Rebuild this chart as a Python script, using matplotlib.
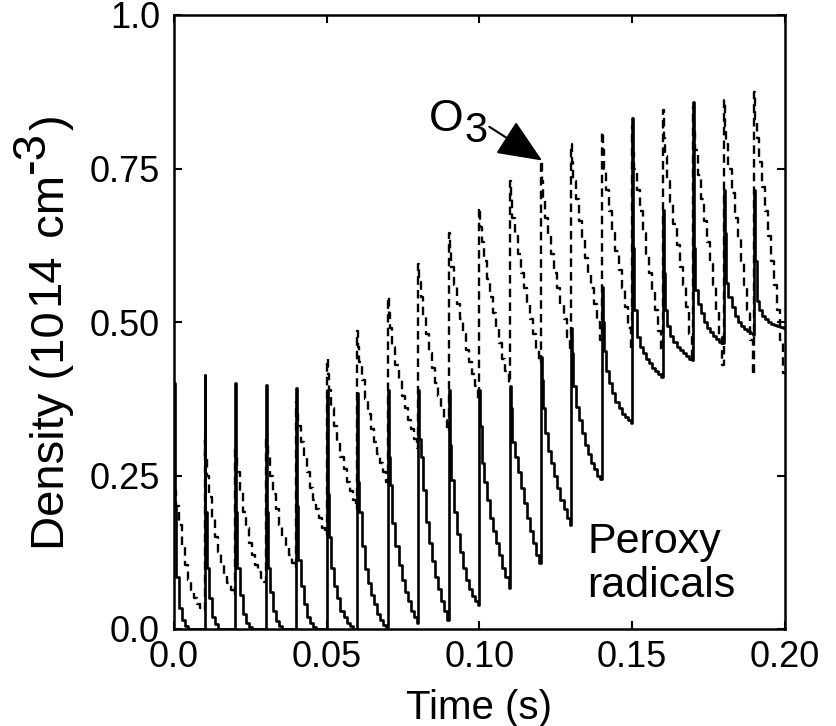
import matplotlib
matplotlib.use("Agg")
import matplotlib.pyplot as plt
from matplotlib.transforms import IdentityTransform

plt.rcParams['font.family'] = ['Liberation Sans', 'DejaVu Sans']

# ---------------- data ----------------
pulse_times = [0.00, 0.01, 0.02, 0.03, 0.04, 0.05, 0.06, 0.07, 0.08, 0.09,
               0.10, 0.11, 0.12, 0.13, 0.14, 0.15, 0.16, 0.17, 0.18, 0.19]
# sample instants (ms after each pulse)
sample_offsets_ms = [0, 0.3, 0.7, 1.5, 2.5, 3.5, 4.5, 5.5, 6.5, 7.5, 8.5, 9.5]

peroxy = [
    [0.400, 0.200, 0.085, 0.035, 0.015, 0.005, 0.000, 0.000, 0.000, 0.000, 0.000, 0.000],
    [0.414, 0.190, 0.100, 0.050, 0.020, 0.008, 0.000, 0.000, 0.000, 0.000, 0.000, 0.000],
    [0.400, 0.190, 0.100, 0.055, 0.025, 0.010, 0.003, 0.000, 0.000, 0.000, 0.000, 0.000],
    [0.397, 0.190, 0.100, 0.060, 0.030, 0.013, 0.005, 0.000, 0.000, 0.000, 0.000, 0.000],
    [0.392, 0.200, 0.112, 0.070, 0.040, 0.020, 0.010, 0.003, 0.000, 0.000, 0.000, 0.000],
    [0.390, 0.220, 0.150, 0.100, 0.070, 0.050, 0.030, 0.020, 0.010, 0.005, 0.000, 0.000],
    [0.385, 0.240, 0.190, 0.135, 0.097, 0.075, 0.055, 0.040, 0.025, 0.015, 0.007, 0.003],
    [0.390, 0.280, 0.235, 0.172, 0.135, 0.105, 0.080, 0.060, 0.045, 0.030, 0.020, 0.010],
    [0.390, 0.310, 0.280, 0.226, 0.175, 0.140, 0.110, 0.085, 0.065, 0.045, 0.030, 0.015],
    [0.390, 0.300, 0.243, 0.190, 0.155, 0.125, 0.100, 0.080, 0.065, 0.053, 0.045, 0.039],
    [0.390, 0.330, 0.270, 0.240, 0.210, 0.180, 0.160, 0.140, 0.120, 0.100, 0.085, 0.066],
    [0.395, 0.360, 0.305, 0.280, 0.255, 0.230, 0.205, 0.180, 0.160, 0.140, 0.120, 0.107],
    [0.443, 0.405, 0.360, 0.320, 0.290, 0.270, 0.250, 0.230, 0.210, 0.195, 0.180, 0.169],
    [0.490, 0.450, 0.395, 0.362, 0.340, 0.320, 0.300, 0.285, 0.270, 0.260, 0.250, 0.245],
    [0.557, 0.500, 0.452, 0.420, 0.400, 0.385, 0.370, 0.360, 0.350, 0.345, 0.340, 0.335],
    [0.832, 0.620, 0.520, 0.476, 0.460, 0.450, 0.440, 0.433, 0.425, 0.420, 0.415, 0.410],
    [0.682, 0.580, 0.520, 0.493, 0.478, 0.468, 0.460, 0.455, 0.450, 0.445, 0.440, 0.438],
    [0.858, 0.620, 0.552, 0.530, 0.514, 0.500, 0.490, 0.483, 0.477, 0.472, 0.468, 0.466],
    [0.715, 0.645, 0.563, 0.540, 0.525, 0.510, 0.500, 0.494, 0.489, 0.485, 0.482, 0.479],
    [0.715, 0.600, 0.535, 0.520, 0.510, 0.505, 0.500, 0.497, 0.495, 0.493, 0.492, 0.490],
]

ozone = [
    [0.250, 0.225, 0.200, 0.170, 0.135, 0.105, 0.080, 0.062, 0.050, 0.040, 0.034, 0.031],
    [0.308, 0.280, 0.250, 0.215, 0.180, 0.150, 0.125, 0.105, 0.090, 0.075, 0.063, 0.055],
    [0.300, 0.280, 0.255, 0.225, 0.190, 0.165, 0.140, 0.120, 0.105, 0.093, 0.083, 0.077],
    [0.318, 0.300, 0.280, 0.250, 0.220, 0.195, 0.170, 0.150, 0.135, 0.120, 0.108, 0.100],
    [0.370, 0.350, 0.330, 0.305, 0.280, 0.255, 0.230, 0.210, 0.195, 0.180, 0.165, 0.153],
    [0.440, 0.415, 0.390, 0.360, 0.330, 0.305, 0.280, 0.260, 0.240, 0.225, 0.210, 0.195],
    [0.485, 0.460, 0.435, 0.405, 0.375, 0.350, 0.325, 0.305, 0.285, 0.270, 0.255, 0.240],
    [0.540, 0.515, 0.490, 0.460, 0.430, 0.405, 0.380, 0.360, 0.340, 0.325, 0.310, 0.295],
    [0.594, 0.565, 0.540, 0.510, 0.480, 0.450, 0.425, 0.400, 0.380, 0.360, 0.340, 0.322],
    [0.645, 0.615, 0.590, 0.560, 0.530, 0.505, 0.480, 0.455, 0.435, 0.415, 0.395, 0.375],
    [0.685, 0.655, 0.630, 0.600, 0.570, 0.540, 0.515, 0.490, 0.465, 0.440, 0.420, 0.400],
    [0.729, 0.700, 0.670, 0.640, 0.610, 0.580, 0.555, 0.530, 0.505, 0.480, 0.455, 0.433],
    [0.763, 0.730, 0.700, 0.670, 0.640, 0.610, 0.580, 0.555, 0.530, 0.505, 0.475, 0.452],
    [0.790, 0.760, 0.730, 0.700, 0.665, 0.635, 0.605, 0.580, 0.555, 0.530, 0.500, 0.470],
    [0.810, 0.780, 0.750, 0.715, 0.680, 0.645, 0.615, 0.585, 0.555, 0.525, 0.490, 0.455],
    [0.820, 0.775, 0.750, 0.715, 0.680, 0.645, 0.610, 0.580, 0.550, 0.520, 0.485, 0.455],
    [0.845, 0.800, 0.770, 0.730, 0.695, 0.660, 0.625, 0.590, 0.560, 0.525, 0.480, 0.440],
    [0.850, 0.810, 0.780, 0.740, 0.700, 0.665, 0.630, 0.595, 0.560, 0.520, 0.475, 0.430],
    [0.862, 0.820, 0.790, 0.750, 0.710, 0.670, 0.635, 0.600, 0.560, 0.520, 0.470, 0.413],
    [0.874, 0.830, 0.800, 0.760, 0.720, 0.680, 0.640, 0.600, 0.560, 0.520, 0.470, 0.417],
]

x_ticks = [0.0, 0.05, 0.10, 0.15, 0.20]
x_tick_labels = ['0.0', '0.05', '0.10', '0.15', '0.20']
y_ticks = [0.0, 0.25, 0.50, 0.75, 1.0]
y_tick_labels = ['0.0', '0.25', '0.50', '0.75', '1.0']


def build(series):
    t, v = [], []
    for tk, vals in zip(pulse_times, series):
        for off, val in zip(sample_offsets_ms, vals):
            t.append(tk + off / 1000.0)
            v.append(val)
    t.append(x_ticks[-1])
    v.append(series[-1][-1])
    return t, v


W, H = 837, 726
fig = plt.figure(figsize=(W / 100, H / 100), dpi=100)
ax = fig.add_axes([174 / W, 1 - 629 / H, (785 - 174) / W, (629 - 15) / H])

t_o3, v_o3 = build(ozone)
t_pr, v_pr = build(peroxy)
ax.plot(t_o3, v_o3, drawstyle='steps-post', color='black', lw=1.7,
        linestyle=(0, (3.6, 2.2)))
ax.plot(t_pr, v_pr, drawstyle='steps-post', color='black', lw=1.9)

ax.set_xlim(x_ticks[0], x_ticks[-1])
ax.set_ylim(y_ticks[0], y_ticks[-1])
ax.set_xticks(x_ticks)
ax.set_xticklabels(x_tick_labels)
ax.set_yticks(y_ticks)
ax.set_yticklabels(y_tick_labels)
ax.tick_params(direction='in', length=6, width=1.5, top=True, right=True,
               labelsize=26)
ax.tick_params(axis='x', pad=8)
ax.tick_params(axis='y', pad=10)
for s in ax.spines.values():
    s.set_linewidth(1.8)

ax.set_xlabel('Time (s)', fontsize=29, labelpad=10)

# annotations
ax.text(0.0835, 0.811, 'O', fontsize=32, ha='left', va='baseline')
ax.text(0.0952, 0.793, '3', fontsize=30, ha='left', va='baseline')
ax.annotate('', xy=(0.1205, 0.763), xytext=(0.1032, 0.818),
            arrowprops=dict(arrowstyle='-|>,head_length=1.4,head_width=0.6',
                            mutation_scale=20, lw=1.5, color='black',
                            shrinkA=0, shrinkB=0))
ax.text(0.1352, 0.124, 'Peroxy', fontsize=31, ha='left', va='baseline')
ax.text(0.1352, 0.052, 'radicals', fontsize=31, ha='left', va='baseline')

# y label built from pieces (superscripts at full size)
renderer = fig.canvas.get_renderer()
pieces = [('Density (10', 0, 6), ('14', 6, 2), (' cm', 0, 2),
          ('-3', 20, 0), (')', 0, 0)]
base_x = 64
y = H - 550
for txt, raise_px, gap_px in pieces:
    tt = fig.text(base_x - raise_px, y, txt, transform=IdentityTransform(),
                  rotation=90, rotation_mode='anchor', ha='left',
                  va='baseline', fontsize=34)
    bb = tt.get_window_extent(renderer)
    y += bb.height + gap_px

fig.savefig('out.png', dpi=100)
